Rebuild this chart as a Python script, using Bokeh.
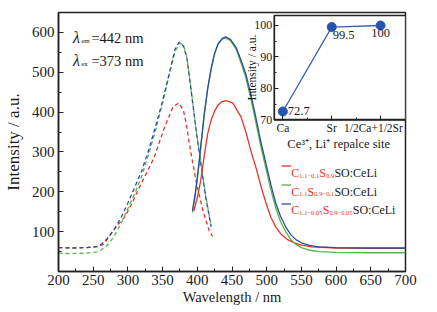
import math
from bokeh.plotting import figure
from bokeh.models import Range1d, LinearAxis, FixedTicker, Label, Legend, LegendItem
from bokeh.embed import file_html
from bokeh.resources import INLINE

FONT = "Liberation Serif"
RED = "#e8312a"
GREEN = "#55b348"
BLUE = "#2b4f9e"
INK = "#1a1a1a"

# ---------------- data ----------------
# excitation spectra (dashed)
ex_wl_blue = [200, 220, 240, 255, 260, 270, 280, 290, 300, 310, 320, 330, 340, 350, 360, 368, 374, 380, 385, 390, 398, 405, 412, 420]
ex_blue = [60, 59, 60, 63, 66, 82, 105, 135, 172, 212, 253, 305, 365, 428, 500, 558, 576, 566, 535, 470, 358, 272, 188, 112]
ex_wl_green = [200, 220, 240, 255, 260, 270, 280, 290, 300, 310, 320, 330, 340, 350, 360, 368, 375, 380, 385, 390, 398, 405, 412, 420]
ex_green = [46, 45, 46, 49, 52, 65, 88, 120, 158, 196, 240, 295, 355, 422, 498, 553, 574, 568, 538, 472, 360, 275, 190, 114]
ex_wl_red = [200, 220, 240, 255, 265, 276, 285, 295, 305, 319, 330, 338, 353, 365, 373, 380, 384, 391, 398, 408, 417, 422]
ex_red = [60, 59, 60, 62, 68, 95, 116, 136, 168, 220, 258, 287, 363, 413, 423, 405, 371, 296, 229, 153, 103, 88]

# emission spectra (solid)
em_wl_bg = [393, 397, 401, 405, 410, 415, 420, 425, 430, 436, 441, 448, 456, 463, 470, 477, 484, 491, 499, 506, 513, 520, 528, 535, 542, 550, 560, 575, 600, 650, 700]
em_blue = [152, 195, 250, 315, 395, 460, 510, 548, 572, 585, 589, 582, 562, 530, 495, 445, 390, 330, 270, 218, 172, 138, 110, 92, 80, 72, 66, 62, 60, 59, 59]
em_green = [148, 190, 245, 310, 393, 458, 508, 546, 570, 583, 586, 579, 558, 524, 486, 435, 378, 318, 258, 205, 160, 125, 98, 80, 68, 60, 54, 50, 48, 47, 47]
em_wl_red = [395, 400, 405, 410, 415, 420, 425, 430, 435, 441, 451, 463, 470, 477, 485, 492, 499, 506, 513, 520, 530, 540, 550, 565, 600, 650, 700]
em_red = [152, 185, 229, 290, 346, 380, 403, 418, 426, 429, 423, 388, 350, 304, 258, 212, 172, 136, 112, 95, 80, 72, 66, 62, 59, 58, 58]

# inset
sites = ["Ca", "Sr", "1/2Ca+1/2Sr"]
site_intensity = [72.7, 99.5, 100]
site_labels = ["72.7", "99.5", "100"]

x_ticks = list(range(200, 701, 50))
y_ticks = [100, 200, 300, 400, 500, 600]
inset_y_ticks = [70, 80, 90, 100]

# ---------------- figure ----------------
p = figure(width=437, height=312, x_range=Range1d(200, 700), y_range=Range1d(0, 650),
           output_backend="svg", toolbar_location=None,
           min_border_left=57, min_border_right=32, min_border_top=12, min_border_bottom=41)
p.grid.visible = False
p.outline_line_color = "#222222"
p.outline_line_width = 1.5
p.background_fill_color = "white"
p.border_fill_color = "white"

for ax in (p.xaxis[0], p.yaxis[0]):
    ax.axis_line_color = "#222222"
    ax.axis_line_width = 1.5
    ax.major_tick_line_color = "#222222"
    ax.minor_tick_line_color = "#222222"
    ax.major_tick_in = 5
    ax.major_tick_out = 0
    ax.minor_tick_in = 3
    ax.minor_tick_out = 0
    ax.major_label_text_font = FONT
    ax.major_label_text_font_size = "15px"
    ax.major_label_text_color = INK
    ax.axis_label_text_font = FONT
    ax.axis_label_text_font_style = "normal"
    ax.axis_label_text_color = INK

p.xaxis.ticker = FixedTicker(ticks=x_ticks, minor_ticks=[t + 25 for t in x_ticks[:-1]])
p.yaxis.ticker = FixedTicker(ticks=y_ticks, minor_ticks=[t - 50 for t in y_ticks] + [650])
p.xaxis.axis_label = "Wavelength / nm"
p.yaxis.axis_label = "Intensity / a.u."
p.xaxis.axis_label_text_font_size = "14.5px"
p.yaxis.axis_label_text_font_size = "17px"
p.xaxis.major_label_standoff = 3
p.yaxis.major_label_standoff = 4
p.xaxis.axis_label_standoff = 1
p.yaxis.axis_label_standoff = 6

# curves
p.line(ex_wl_red, ex_red, color=RED, line_width=1.3, line_dash="4 3")
p.line(ex_wl_green, ex_green, color=GREEN, line_width=1.3, line_dash="4 3")
p.line(ex_wl_blue, ex_blue, color=BLUE, line_width=1.3, line_dash="4 3")
r_red = p.line(em_wl_red, em_red, color=RED, line_width=1.3)
r_green = p.line(em_wl_bg, em_green, color=GREEN, line_width=1.3)
r_blue = p.line(em_wl_bg, em_blue, color=BLUE, line_width=1.3)


# pixel -> data helpers for annotation placement
def X(px):
    return 200 + (px - 57) * 500 / 348


def Y(py):
    return (271 - py) * 650 / 259


def lab(text, px, py, size, color=INK, style="normal", **kw):
    p.add_layout(Label(x=X(px), y=Y(py), text=text, text_font=FONT, text_font_size=f"{size}px",
                       text_color=color, text_font_style=style, text_baseline="alphabetic", **kw))


# lambda annotations
lab("λ", 71.5, 37.3, 16, style="italic")
lab("em", 79.8, 40.5, 7)
lab("=442 nm", 90, 37.3, 14.5)
lab("λ", 71.5, 60.3, 16, style="italic")
lab("ex", 79.8, 63.5, 7)
lab("=373 nm", 90, 60.3, 14.5)

# legend (sample lines through Bokeh's legend, labels as rich text pieces)
legend = Legend(items=[LegendItem(label=" ", renderers=[r]) for r in (r_red, r_green, r_blue)],
                location=(223, 58), glyph_width=10, glyph_height=19, label_height=19,
                label_width=0, label_standoff=0, spacing=0, padding=0, margin=0,
                border_line_alpha=0, background_fill_alpha=0, label_text_alpha=0,
                label_text_font_size="1px")
p.add_layout(legend)

rows = [
    [("C", 290.5, 0), ("1.1−0.1", 298.5, 1), ("S", 318.6, 0), ("0.9", 325.4, 1), ("SO:CeLi", 333.7, 2)],
    [("C", 290.5, 0), ("1.1", 298.5, 1), ("S", 306.8, 0), ("0.9−0.1", 313.6, 1), ("SO:CeLi", 333.7, 2)],
    [("C", 290.5, 0), ("1.1−0.05", 298.5, 1), ("S", 321.9, 0), ("0.9−0.05", 328.7, 1), ("SO:CeLi", 352.1, 2)],
]
baselines = [172.5, 191.0, 209.7]
for row, base in zip(rows, baselines):
    for text, px, kind in row:
        if kind == 0:
            lab(text, px, base, 12, color=RED)
        elif kind == 1:
            lab(text, px, base + 2.5, 6.5, color=RED)
        else:
            lab(text, px, base, 12, color=INK)

# ---------------- inset (own ranges inside the same frame) ----------------
p.extra_x_ranges = {"ix": Range1d(-4.592, 2.510)}
p.extra_y_ranges = {"iy": Range1d(21.90, 104.12)}
IX0, IY1 = -0.178, 103.17

p.quad(left=[IX0], right=[2.510], bottom=[70], top=[IY1], x_range_name="ix", y_range_name="iy",
       fill_color="white", line_color="#222222", line_width=1.3)

sx = list(range(len(sites)))
p.line(sx, site_intensity, x_range_name="ix", y_range_name="iy", color="#3a5fae", line_width=1.3)
p.scatter(sx, site_intensity, x_range_name="ix", y_range_name="iy", size=9, color="#2755ae")

p.add_layout(Label(x=sx[0], y=site_intensity[0], text=site_labels[0], x_offset=5, x_range_name="ix",
                   y_range_name="iy", text_font=FONT, text_font_size="12.5px", text_color=INK,
                   text_baseline="middle"))
p.add_layout(Label(x=sx[1], y=site_intensity[1], text=site_labels[1], x_offset=1, y_offset=-4,
                   x_range_name="ix", y_range_name="iy", text_font=FONT, text_font_size="12.5px",
                   text_color=INK, text_baseline="top"))
p.add_layout(Label(x=sx[2], y=site_intensity[2], text=site_labels[2], y_offset=-4, x_range_name="ix",
                   y_range_name="iy", text_font=FONT, text_font_size="12.5px", text_color=INK,
                   text_baseline="top", text_align="center"))

NB = "\u00a0"
iya = LinearAxis(x_range_name="ix", y_range_name="iy", fixed_location=IX0, bounds=(70, IY1),
                 ticker=FixedTicker(ticks=inset_y_ticks, minor_ticks=[75, 85, 95]))
ixa = LinearAxis(x_range_name="ix", y_range_name="iy", fixed_location=70, bounds=(IX0, 2.51),
                 ticker=FixedTicker(ticks=sx, minor_ticks=[0.5, 1.5]),
                 major_label_overrides={0: sites[0], 1: sites[1], 2: sites[2] + NB * 5})
for ax in (iya, ixa):
    ax.axis_line_color = "#222222"
    ax.axis_line_width = 1.3
    ax.major_tick_line_color = "#222222"
    ax.minor_tick_line_color = "#222222"
    ax.major_tick_in = 4
    ax.major_tick_out = 0
    ax.minor_tick_in = 2
    ax.minor_tick_out = 0
    ax.major_label_text_font = FONT
    ax.major_label_text_font_size = "12px"
    ax.major_label_text_color = INK
    ax.major_label_standoff = 2
ixa.major_label_text_font_size = "11.5px"
p.add_layout(iya, "left")
p.add_layout(ixa, "below")

# inset axis titles
p.add_layout(Label(x=X(251.5), y=Y(67), text="Intensity / a.u.", angle=math.pi / 2, text_font=FONT,
                   text_font_size="11.5px", text_color=INK, text_align="center", text_baseline="middle"))
p.add_layout(Label(x=X(338), y=Y(143), text="Ce³⁺, Li⁺ repalce site", text_font=FONT,
                   text_font_size="12.5px", text_color=INK, text_align="center", text_baseline="middle"))

open("out.html", "w").write(file_html(p, INLINE))
